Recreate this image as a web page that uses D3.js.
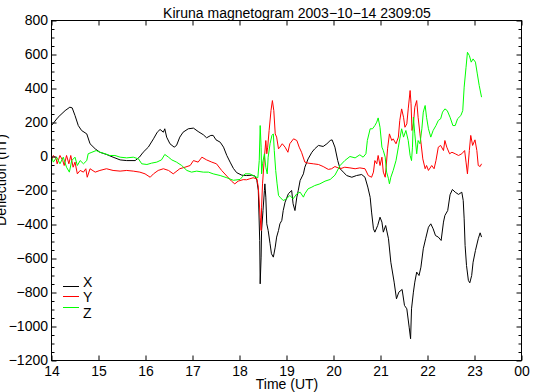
<!DOCTYPE html>
<html>
<head>
<meta charset="utf-8">
<script src="https://cdn.jsdelivr.net/npm/d3@7"></script>
<style>
  body { margin: 0; background: #fff; }
  text { font-family: "Liberation Sans", Arial, sans-serif; }
</style>
</head>
<body>
<div id="chart"></div>
<script>
// Kiruna magnetogram, hours UT vs deflection (nT)
const title = "Kiruna magnetogram 2003\u221210\u221214 2309:05";
const hourTicks = [14, 15, 16, 17, 18, 19, 20, 21, 22, 23, 24];
const valueTicks = [-1200, -1000, -800, -600, -400, -200, 0, 200, 400, 600, 800];
const seriesNames = ["X", "Y", "Z"];

const xData = [[14.00,182],[14.14,231],[14.29,270],[14.39,290],[14.44,286],[14.50,241],[14.57,182],[14.64,153],[14.75,133],[14.82,75],[14.93,45],[15.03,25],[15.17,12],[15.31,-4],[15.46,-20],[15.60,-24],[15.78,-24],[15.87,-4],[15.95,25],[16.06,55],[16.17,104],[16.25,143],[16.31,159],[16.38,143],[16.41,163],[16.45,114],[16.52,75],[16.61,55],[16.66,65],[16.73,114],[16.80,143],[16.91,163],[17.02,167],[17.12,147],[17.23,128],[17.30,110],[17.39,124],[17.44,124],[17.50,98],[17.59,84],[17.66,55],[17.73,6],[17.80,-33],[17.87,-70],[17.94,-95],[18.05,-110],[18.15,-112],[18.26,-110],[18.33,-115],[18.37,-141],[18.40,-200],[18.43,-494],[18.44,-749],[18.46,-592],[18.47,-435],[18.50,-318],[18.53,-200],[18.54,-161],[18.56,-239],[18.58,-396],[18.61,-435],[18.65,-513],[18.68,-572],[18.72,-592],[18.76,-533],[18.79,-474],[18.83,-435],[18.86,-396],[18.90,-376],[18.93,-318],[18.97,-269],[19.04,-219],[19.11,-200],[19.14,-278],[19.18,-318],[19.22,-239],[19.25,-200],[19.29,-141],[19.36,-102],[19.39,-63],[19.46,-14],[19.54,25],[19.60,45],[19.68,65],[19.78,59],[19.86,75],[19.93,94],[19.97,98],[20.03,55],[20.09,-24],[20.14,-72],[20.21,-92],[20.28,-112],[20.39,-122],[20.49,-112],[20.60,-106],[20.67,-122],[20.73,-180],[20.78,-240],[20.81,-327],[20.85,-425],[20.88,-445],[20.94,-406],[20.99,-357],[21.03,-386],[21.06,-445],[21.11,-406],[21.17,-484],[21.22,-622],[21.29,-739],[21.34,-837],[21.39,-798],[21.46,-782],[21.51,-876],[21.56,-896],[21.61,-1004],[21.64,-1072],[21.66,-896],[21.70,-798],[21.73,-739],[21.77,-680],[21.82,-700],[21.86,-651],[21.91,-543],[21.96,-484],[22.02,-416],[22.07,-396],[22.12,-425],[22.17,-465],[22.23,-474],[22.29,-494],[22.34,-386],[22.37,-347],[22.43,-318],[22.48,-225],[22.53,-194],[22.59,-210],[22.66,-223],[22.73,-210],[22.76,-259],[22.78,-367],[22.80,-523],[22.83,-641],[22.87,-729],[22.90,-743],[22.94,-700],[22.97,-622],[23.02,-553],[23.08,-484],[23.12,-449],[23.15,-474]];

const yData = [[14.00,-24],[14.04,6],[14.10,-14],[14.12,-43],[14.18,6],[14.24,-24],[14.27,-53],[14.32,6],[14.37,-43],[14.41,6],[14.46,-63],[14.50,-33],[14.55,-102],[14.61,-82],[14.68,-92],[14.73,-72],[14.76,-122],[14.82,-72],[14.93,-92],[15.03,-82],[15.17,-72],[15.31,-82],[15.46,-86],[15.60,-82],[15.74,-86],[15.88,-92],[15.99,-102],[16.10,-122],[16.17,-102],[16.27,-82],[16.38,-72],[16.49,-82],[16.59,-102],[16.73,-72],[16.84,-63],[16.95,-53],[17.02,-24],[17.12,-33],[17.20,-4],[17.30,-20],[17.41,-33],[17.51,-43],[17.62,-82],[17.73,-115],[17.83,-145],[17.90,-161],[17.97,-145],[18.08,-136],[18.15,-137],[18.22,-131],[18.29,-125],[18.37,-131],[18.40,-180],[18.44,-357],[18.46,-435],[18.47,-298],[18.49,-161],[18.53,-4],[18.56,94],[18.58,16],[18.60,55],[18.63,153],[18.67,270],[18.70,329],[18.73,270],[18.76,133],[18.79,114],[18.83,45],[18.86,55],[18.91,75],[18.97,55],[19.03,25],[19.07,75],[19.15,104],[19.22,94],[19.27,55],[19.32,25],[19.39,-33],[19.46,-39],[19.57,-43],[19.68,-47],[19.78,-59],[19.89,-76],[19.96,-72],[20.03,-59],[20.14,-72],[20.24,-63],[20.35,-67],[20.46,-72],[20.56,-67],[20.67,-72],[20.74,-112],[20.81,-122],[20.85,-92],[20.88,-24],[20.92,-43],[20.95,6],[20.99,-53],[21.03,-4],[21.06,-92],[21.10,-122],[21.12,-63],[21.15,45],[21.19,133],[21.24,94],[21.27,104],[21.33,75],[21.38,114],[21.41,212],[21.45,280],[21.49,231],[21.52,172],[21.56,192],[21.59,280],[21.63,388],[21.65,310],[21.67,153],[21.70,192],[21.73,290],[21.77,329],[21.80,231],[21.84,133],[21.90,-14],[21.95,-72],[21.98,-53],[22.02,-82],[22.09,-53],[22.14,-72],[22.18,-24],[22.23,55],[22.28,65],[22.34,35],[22.37,94],[22.41,55],[22.47,16],[22.52,25],[22.59,16],[22.66,6],[22.73,16],[22.79,35],[22.82,-33],[22.85,-102],[22.89,35],[22.92,124],[22.96,65],[23.01,98],[23.05,35],[23.08,-53],[23.12,-59],[23.15,-43]];

const zData = [[14.00,-4],[14.04,-33],[14.11,-4],[14.18,-43],[14.25,-4],[14.32,-63],[14.38,-92],[14.43,-24],[14.50,-4],[14.55,-53],[14.61,-24],[14.68,-43],[14.75,-24],[14.78,16],[14.86,25],[14.95,35],[15.03,25],[15.14,16],[15.24,6],[15.35,6],[15.46,-4],[15.60,-8],[15.74,-4],[15.85,-14],[15.92,-43],[16.03,-47],[16.13,-39],[16.24,-33],[16.34,-20],[16.41,12],[16.49,-4],[16.56,-20],[16.66,-33],[16.77,-53],[16.88,-82],[16.98,-92],[17.09,-86],[17.23,-92],[17.34,-92],[17.44,-102],[17.59,-112],[17.73,-125],[17.87,-140],[18.01,-135],[18.12,-102],[18.22,-102],[18.33,-118],[18.39,-125],[18.42,-24],[18.44,182],[18.46,55],[18.47,-102],[18.49,-43],[18.53,16],[18.56,-63],[18.59,-102],[18.61,-4],[18.65,75],[18.69,124],[18.72,133],[18.74,35],[18.77,-82],[18.80,-161],[18.83,-229],[18.86,-239],[18.93,-259],[19.00,-249],[19.07,-229],[19.14,-249],[19.22,-219],[19.29,-210],[19.36,-239],[19.39,-219],[19.46,-190],[19.54,-180],[19.60,-171],[19.71,-161],[19.82,-145],[19.93,-135],[20.03,-110],[20.14,-53],[20.24,-24],[20.35,0],[20.46,-8],[20.56,10],[20.63,-4],[20.69,16],[20.72,94],[20.78,163],[20.83,163],[20.88,182],[20.92,202],[20.95,227],[20.99,172],[21.03,55],[21.06,35],[21.10,-4],[21.13,-92],[21.17,-131],[21.19,-161],[21.22,-122],[21.27,-82],[21.33,-24],[21.38,55],[21.41,104],[21.45,163],[21.49,114],[21.54,153],[21.59,94],[21.63,6],[21.66,-24],[21.68,55],[21.70,231],[21.73,133],[21.77,16],[21.80,94],[21.84,75],[21.88,163],[21.91,261],[21.95,300],[21.98,231],[22.02,163],[22.07,114],[22.12,153],[22.18,182],[22.23,212],[22.28,222],[22.32,261],[22.37,280],[22.42,270],[22.48,231],[22.54,182],[22.59,182],[22.64,222],[22.71,241],[22.75,270],[22.78,408],[22.82,525],[22.85,613],[22.89,594],[22.93,555],[22.97,574],[23.02,555],[23.06,486],[23.10,418],[23.15,349]];

const colors = ["#000000", "#ff0000", "#00ff00"];
const allSeries = [xData, yData, zData];

const W = 535, H = 392;
const plotLeft = 51.5, plotRight = 521.5, plotTop = 20.5, plotBottom = 360.5;

const svg = d3.select("#chart")
    .append("svg")
    .attr("width", W)
    .attr("height", H);

svg.append("rect").attr("width", W).attr("height", H).attr("fill", "#fff");

const x = d3.scaleLinear().domain([14, 24]).range([plotLeft, plotRight]);
const y = d3.scaleLinear().domain([-1200, 800]).range([plotBottom, plotTop]);

// minor y ticks every 50
const minorTicks = d3.range(-1200, 801, 50).filter(v => v % 200 !== 0);

// Series lines
const line = d3.line().x(d => x(d[0])).y(d => y(d[1]));
allSeries.forEach((data, i) => {
    svg.append("path")
        .datum(data)
        .attr("fill", "none")
        .attr("stroke", colors[i])
        .attr("stroke-width", 1)
        .attr("d", line);
});

// Frame
svg.append("rect")
    .attr("x", plotLeft).attr("y", plotTop)
    .attr("width", plotRight - plotLeft).attr("height", plotBottom - plotTop)
    .attr("fill", "none").attr("stroke", "#000").attr("stroke-width", 1);

function styleAxis(g) {
    g.select(".domain").remove();
    g.selectAll("line").attr("stroke", "#000");
    g.selectAll("text").attr("fill", "#000").style("font-size", "14px")
        .style("font-family", '"Liberation Sans", Arial, sans-serif');
}

// Axes (ticks pointing inward)
svg.append("g")
    .attr("transform", `translate(${plotLeft},0)`)
    .call(d3.axisLeft(y).tickValues(valueTicks).tickSize(-5).tickPadding(3.5)
        .tickFormat(d3.format("d")))
    .call(styleAxis);
svg.append("g")
    .attr("transform", `translate(${plotLeft},0)`)
    .call(d3.axisLeft(y).tickValues(minorTicks).tickSize(-3).tickFormat(""))
    .call(styleAxis);
svg.append("g")
    .attr("transform", `translate(${plotRight},0)`)
    .call(d3.axisRight(y).tickValues(valueTicks).tickSize(-5).tickFormat(""))
    .call(styleAxis);
svg.append("g")
    .attr("transform", `translate(${plotRight},0)`)
    .call(d3.axisRight(y).tickValues(minorTicks).tickSize(-3).tickFormat(""))
    .call(styleAxis);
svg.append("g")
    .attr("transform", `translate(0,${plotBottom})`)
    .call(d3.axisBottom(x).tickValues(hourTicks).tickSize(-5).tickPadding(6)
        .tickFormat(d => d === 24 ? "00" : String(d)))
    .call(styleAxis);
svg.append("g")
    .attr("transform", `translate(0,${plotTop})`)
    .call(d3.axisTop(x).tickValues(hourTicks).tickSize(-5).tickFormat(""))
    .call(styleAxis);

// Labels
svg.append("text")
    .attr("x", 297).attr("y", 17.5)
    .attr("text-anchor", "middle")
    .style("font-size", "14px")
    .text(title);

svg.append("text")
    .attr("x", 287).attr("y", 389)
    .attr("text-anchor", "middle")
    .style("font-size", "14px")
    .text("Time (UT)");

svg.append("text")
    .attr("transform", "translate(5.5,180) rotate(-90)")
    .attr("text-anchor", "middle")
    .style("font-size", "14px")
    .text("Deflection (nT)");

// Legend
const legendLineY = [286.5, 296.5, 307.5];
const legendTextY = [287, 302, 318];
seriesNames.forEach((name, i) => {
    svg.append("line")
        .attr("x1", 63).attr("x2", 79)
        .attr("y1", legendLineY[i]).attr("y2", legendLineY[i])
        .attr("stroke", colors[i]).attr("stroke-width", 1);
    svg.append("text")
        .attr("x", 83).attr("y", legendTextY[i])
        .style("font-size", "14px")
        .text(name);
});
</script>
</body>
</html>
